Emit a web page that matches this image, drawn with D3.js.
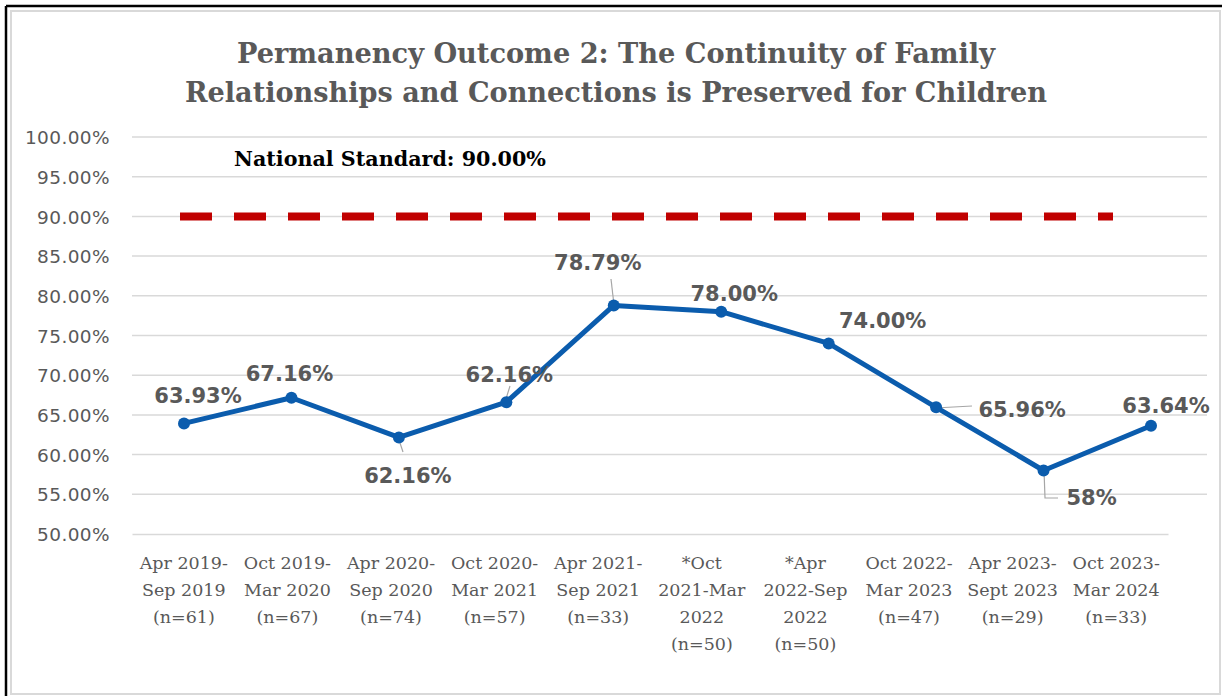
<!DOCTYPE html>
<html><head><meta charset="utf-8">
<script src="https://cdn.jsdelivr.net/npm/d3@7"></script>
<style>body{margin:0;background:#fff}svg{display:block}</style>
</head><body>
<svg id="c" width="1222" height="696"></svg>
<script>
const categories = [
  "Apr 2019-|Sep 2019|(n=61)",
  "Oct 2019-|Mar 2020|(n=67)",
  "Apr 2020-|Sep 2020|(n=74)",
  "Oct 2020-|Mar 2021|(n=57)",
  "Apr 2021-|Sep 2021|(n=33)",
  "*Oct|2021-Mar|2022|(n=50)",
  "*Apr|2022-Sep|2022|(n=50)",
  "Oct 2022-|Mar 2023|(n=47)",
  "Apr 2023-|Sept 2023|(n=29)",
  "Oct 2023-|Mar 2024|(n=33)"
];
const values = [63.93, 67.16, 62.16, 66.6, 78.79, 78.00, 74.00, 65.96, 58, 63.64];
const dataLabels = ["63.93%","67.16%","62.16%","62.16%","78.79%","78.00%","74.00%","65.96%","58%","63.64%"];
const yTicks = [50,55,60,65,70,75,80,85,90,95,100];
const nationalStandard = 90;
const titleLines = ["Permanency Outcome 2: The Continuity of Family","Relationships and Connections is Preserved for Children"];
const standardLabel = "National Standard: 90.00%";

// layout (label offsets relative to points)
const labelOffsets = [[14,-20],[-2,-17],[9,46],[3,-20],[-16,-35],[13,-11],[54,-15],[86,10],[48,35],[15,-13]];

const svg = d3.select("#c");
// frame
svg.append("rect").attr("x",11).attr("y",11).attr("width",1209).attr("height",683)
  .attr("fill","none").attr("stroke","#d9d9d9").attr("stroke-width",2);
svg.append("line").attr("x1",6).attr("x2",1222).attr("y1",6).attr("y2",6).attr("stroke","#000").attr("stroke-width",2.5);
svg.append("line").attr("x1",6).attr("x2",6).attr("y1",6).attr("y2",696).attr("stroke","#000").attr("stroke-width",2.5);

const y = d3.scaleLinear().domain([50,100]).range([534,137]);
const xBand = d3.scaleBand().domain(categories).range([132,1168]);
const xPt = d3.scalePoint().domain(categories).range([184,1151]);

// title
const title = svg.append("g");
title.selectAll("text").data(titleLines).join("text")
  .attr("x",616).attr("y",(d,i)=>63+i*39)
  .attr("text-anchor","middle")
  .attr("font-family","'DejaVu Serif',serif")
  .attr("font-weight","bold").attr("font-size",28).attr("fill","#595959")
  .attr("textLength",(d,i)=>i===0?758:862).attr("lengthAdjust","spacingAndGlyphs")
  .text(d=>d);

// gridlines
svg.append("g").selectAll("line").data(yTicks.filter(t=>t>50)).join("line")
  .attr("x1",132).attr("x2",1207).attr("y1",d=>y(d)).attr("y2",d=>y(d))
  .attr("stroke","#d9d9d9").attr("stroke-width",1.5);

// x axis
const xAxis = svg.append("g").attr("transform","translate(0,534)")
  .call(d3.axisBottom(xBand).tickSize(0).tickFormat(""));
xAxis.select(".domain").attr("stroke","#d9d9d9").attr("stroke-width",1.5);
xAxis.selectAll(".tick").each(function(d){
  const t = d3.select(this).append("text").attr("fill","#595959")
    .attr("font-family","'DejaVu Serif',serif").attr("font-size",17.5)
    .attr("text-anchor","middle");
  d.split("|").forEach((s,i)=>t.append("tspan").attr("x",0).attr("y",35+i*27).text(s));
});

// y axis
const yAxis = svg.append("g").attr("transform","translate(110,0)")
  .call(d3.axisLeft(y).tickValues(yTicks).tickSize(0).tickPadding(0).tickFormat(d=>d3.format(".2f")(d)+"%"));
yAxis.select(".domain").remove();
yAxis.selectAll("text").attr("fill","#595959").attr("font-family","'DejaVu Sans',sans-serif")
  .attr("font-size",18.5).attr("dy","0.36em").attr("letter-spacing","0.4");

// national standard
svg.append("line").attr("x1",180).attr("x2",1113).attr("y1",y(nationalStandard)).attr("y2",y(nationalStandard))
  .attr("stroke","#c00000").attr("stroke-width",8).attr("stroke-dasharray","32,22");
svg.append("text").attr("x",234).attr("y",166)
  .attr("font-family","'DejaVu Serif',serif").attr("font-weight","bold")
  .attr("font-size",21).attr("fill","#000").attr("textLength",312).attr("lengthAdjust","spacingAndGlyphs")
  .text(standardLabel);

// leader lines
const leaders = [
  [[398,437],[403,452]],
  [[505,402],[510,386]],
  [[614,305],[611,279]],
  [[935,408],[972,406]],
  [[1044,470],[1045,498],[1058,498]]
];
svg.append("g").selectAll("path").data(leaders).join("path")
  .attr("d",d=>d3.line()(d)).attr("fill","none").attr("stroke","#a6a6a6").attr("stroke-width",1.2);

// series
const pts = categories.map((c,i)=>({c,v:values[i],l:dataLabels[i],o:labelOffsets[i]}));
svg.append("path").datum(pts)
  .attr("d",d3.line().x(d=>xPt(d.c)).y(d=>y(d.v)))
  .attr("fill","none").attr("stroke","#0b5cad").attr("stroke-width",5).attr("stroke-linejoin","round");
svg.append("g").selectAll("circle").data(pts).join("circle")
  .attr("cx",d=>xPt(d.c)).attr("cy",d=>y(d.v)).attr("r",6).attr("fill","#0b5cad");

// data labels
svg.append("g").selectAll("text").data(pts).join("text")
  .attr("x",d=>xPt(d.c)+d.o[0]).attr("y",d=>y(d.v)+d.o[1])
  .attr("text-anchor","middle").attr("font-family","'DejaVu Sans',sans-serif")
  .attr("font-weight","bold").attr("font-size",21).attr("fill","#595959")
  .text(d=>d.l);
</script>
</body></html>
